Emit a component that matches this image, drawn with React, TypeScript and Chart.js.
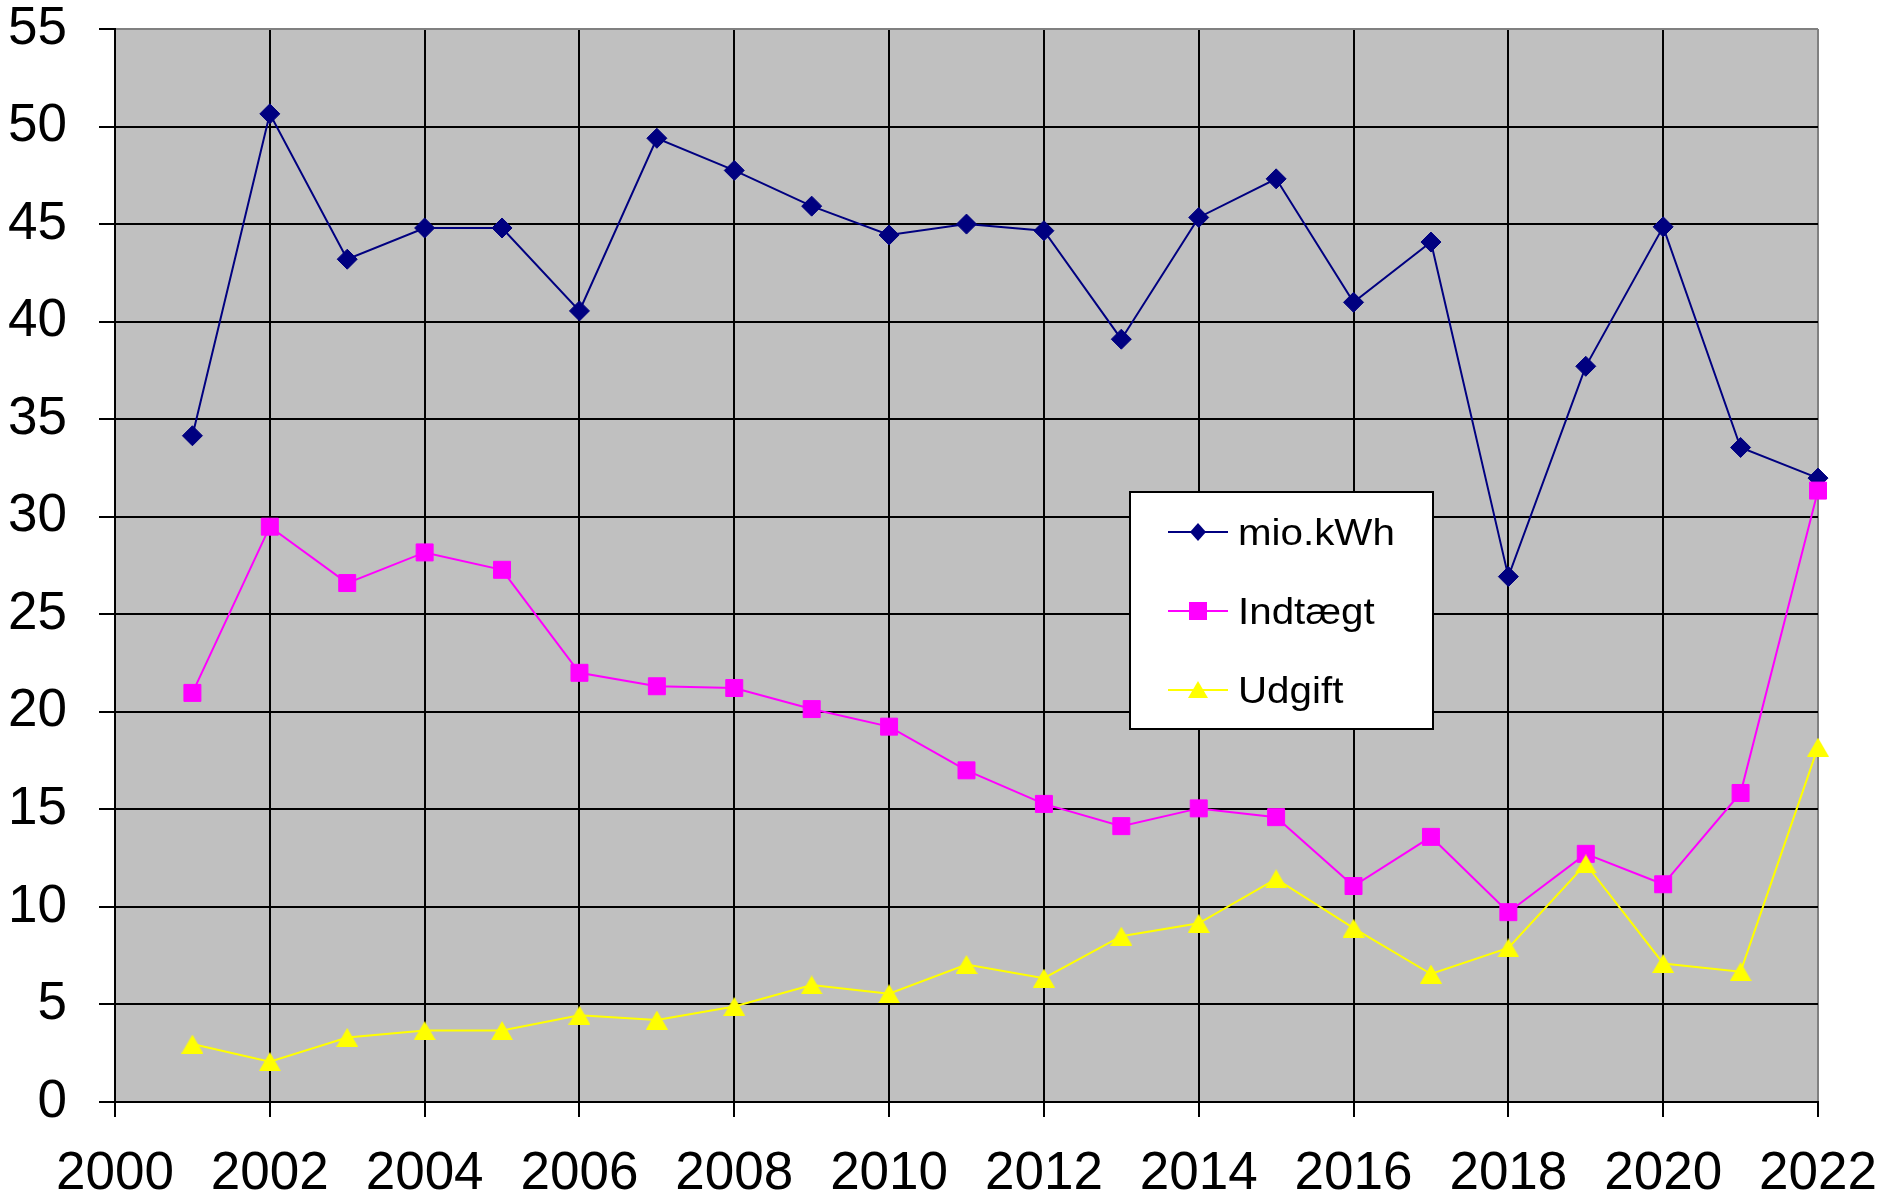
import React, { useEffect, useRef } from 'react';
import { Chart, registerables } from 'chart.js';

Chart.register(...registerables);

// ---- data ----
const years = [2001, 2002, 2003, 2004, 2005, 2006, 2007, 2008, 2009, 2010, 2011, 2012, 2013, 2014, 2015, 2016, 2017, 2018, 2019, 2020, 2021, 2022];
const mioKWh = [34.15, 50.65, 43.2, 44.8, 44.8, 40.55, 49.4, 47.75, 45.92, 44.44, 45.0, 44.66, 39.1, 45.34, 47.32, 40.99, 44.08, 26.93, 37.71, 44.86, 33.55, 31.98];
const indtaegt = [20.97, 29.49, 26.6, 28.17, 27.28, 22.0, 21.31, 21.22, 20.14, 19.24, 17.0, 15.28, 14.14, 15.05, 14.6, 11.07, 13.59, 9.73, 12.72, 11.16, 15.84, 31.34];
const udgift = [2.97, 2.07, 3.31, 3.66, 3.66, 4.45, 4.2, 4.9, 6.0, 5.55, 7.05, 6.35, 8.5, 9.16, 11.44, 8.91, 6.56, 7.9, 12.2, 7.1, 6.68, 18.19];
const seriesNames = ['mio.kWh', 'Indtægt', 'Udgift'];
const seriesColors = ['#000080', '#FF00FF', '#FFFF00'];
const xRange = [2000, 2022];
const xStep = 2;
const yRange = [0, 55];
const yStep = 5;

const FONT = '"Liberation Sans", Arial, Helvetica, sans-serif';
const W = 1893;
const H = 1200;

function makeTriangle(color: string, w: number, h: number) {
  const c = document.createElement('canvas');
  c.width = w;
  c.height = h;
  const g = c.getContext('2d')!;
  g.fillStyle = color;
  g.beginPath();
  g.moveTo(w / 2, 0);
  g.lineTo(w, h);
  g.lineTo(0, h);
  g.closePath();
  g.fill();
  return c;
}

const plotBg = {
  id: 'plotBg',
  beforeDraw(chart: any) {
    const { ctx, chartArea } = chart;
    ctx.save();
    ctx.fillStyle = '#FFFFFF';
    ctx.fillRect(0, 0, chart.width, chart.height);
    ctx.fillStyle = '#C0C0C0';
    ctx.fillRect(chartArea.left, chartArea.top, chartArea.right - chartArea.left, chartArea.bottom - chartArea.top);
    ctx.restore();
  },
};

const legendBox = { x: 1130, y: 492, w: 303, h: 237, rows: [532, 611, 690], lineX1: 1168, lineX2: 1228, markX: 1198, textX: 1238 };

const innerLegend = {
  id: 'innerLegend',
  afterDraw(chart: any) {
    const { ctx } = chart;
    const b = legendBox;
    ctx.save();
    ctx.fillStyle = '#FFFFFF';
    ctx.fillRect(b.x, b.y, b.w, b.h);
    ctx.strokeStyle = '#000000';
    ctx.lineWidth = 2;
    ctx.strokeRect(b.x, b.y, b.w, b.h);
    seriesNames.forEach((name, i) => {
      const y = b.rows[i];
      const col = seriesColors[i];
      ctx.strokeStyle = col;
      ctx.lineWidth = 2;
      ctx.beginPath();
      ctx.moveTo(b.lineX1, y);
      ctx.lineTo(b.lineX2, y);
      ctx.stroke();
      ctx.fillStyle = col;
      ctx.beginPath();
      if (i === 0) {
        ctx.moveTo(b.markX, y - 9);
        ctx.lineTo(b.markX + 8, y);
        ctx.lineTo(b.markX, y + 9);
        ctx.lineTo(b.markX - 8, y);
        ctx.closePath();
        ctx.fill();
      } else if (i === 1) {
        ctx.fillRect(b.markX - 9, y - 9, 18, 18);
      } else {
        ctx.moveTo(b.markX, y - 9);
        ctx.lineTo(b.markX + 10, y + 8);
        ctx.lineTo(b.markX - 10, y + 8);
        ctx.closePath();
        ctx.fill();
      }
      ctx.fillStyle = '#000000';
      ctx.font = `36px ${FONT}`;
      ctx.textBaseline = 'alphabetic';
      ctx.textAlign = 'left';
      ctx.save();
      ctx.translate(b.textX, y + 13);
      ctx.scale(1.12, 1);
      ctx.fillText(name, 0, 0);
      ctx.restore();
    });
    ctx.restore();
  },
};

export default function App() {
  const ref = useRef<HTMLCanvasElement>(null);
  useEffect(() => {
    const canvas = ref.current!;
    const tri = makeTriangle(seriesColors[2], 22, 19);
    const toPts = (vals: number[]) => years.map((x, i) => ({ x, y: vals[i] }));
    const chart = new Chart(canvas, {
      type: 'line',
      data: {
        datasets: [
          {
            label: seriesNames[0],
            data: toPts(mioKWh),
            borderColor: seriesColors[0],
            backgroundColor: seriesColors[0],
            borderWidth: 2,
            pointStyle: 'rectRot',
            pointRadius: 10,
            pointBorderWidth: 1,
            pointBackgroundColor: seriesColors[0],
            pointBorderColor: seriesColors[0],
            tension: 0,
            order: 3,
            clip: false as any,
          },
          {
            label: seriesNames[1],
            data: toPts(indtaegt),
            borderColor: seriesColors[1],
            backgroundColor: seriesColors[1],
            borderWidth: 2,
            pointStyle: 'rect',
            pointRadius: 12,
            pointBorderWidth: 1,
            pointBackgroundColor: seriesColors[1],
            pointBorderColor: seriesColors[1],
            tension: 0,
            order: 2,
            clip: false as any,
          },
          {
            label: seriesNames[2],
            data: toPts(udgift),
            borderColor: seriesColors[2],
            backgroundColor: seriesColors[2],
            borderWidth: 2,
            pointStyle: tri as any,
            pointRadius: 10,
            tension: 0,
            order: 1,
            clip: false as any,
          },
        ],
      },
      options: {
        animation: false,
        responsive: false,
        maintainAspectRatio: false,
        devicePixelRatio: 1,
        layout: { padding: { top: 29, right: 75, left: 0, bottom: 0 } },
        plugins: { legend: { display: false }, tooltip: { enabled: false }, title: { display: false } },
        events: [],
        scales: {
          x: {
            type: 'linear',
            min: xRange[0],
            max: xRange[1],
            ticks: {
              stepSize: xStep,
              autoSkip: false,
              maxRotation: 0,
              color: '#000000',
              padding: 26,
              font: { family: FONT, size: 53 },
              callback: (v: any) => String(v),
            },
            grid: {
              color: (c: any) => (c.tick && c.tick.value === xRange[1] ? '#808080' : '#000000'),
              tickColor: '#000000',
              lineWidth: 2,
              tickLength: 15,
            },
            border: { color: '#000000', width: 2 },
            afterFit: (s: any) => {
              s.height = 98;
              s.paddingLeft = 0;
              s.paddingRight = 0;
            },
          },
          y: {
            type: 'linear',
            min: yRange[0],
            max: yRange[1],
            ticks: {
              stepSize: yStep,
              color: '#000000',
              padding: 32,
              font: { family: FONT, size: 53 },
              callback: (v: any) => String(v),
            },
            grid: {
              color: (c: any) => (c.tick && c.tick.value === yRange[1] ? '#808080' : '#000000'),
              tickColor: '#000000',
              lineWidth: 2,
              tickLength: 16,
            },
            border: { color: '#000000', width: 2 },
            afterFit: (s: any) => {
              s.width = 115;
              s.paddingTop = 0;
              s.paddingBottom = 0;
            },
          },
        },
      },
      plugins: [plotBg, innerLegend],
    } as any);
    return () => chart.destroy();
  }, []);
  return (
    <div style={{ position: 'absolute', left: 0, top: 0, width: W, height: H, background: '#fff' }}>
      <canvas ref={ref} width={W} height={H} style={{ display: 'block', width: W, height: H }} />
    </div>
  );
}
